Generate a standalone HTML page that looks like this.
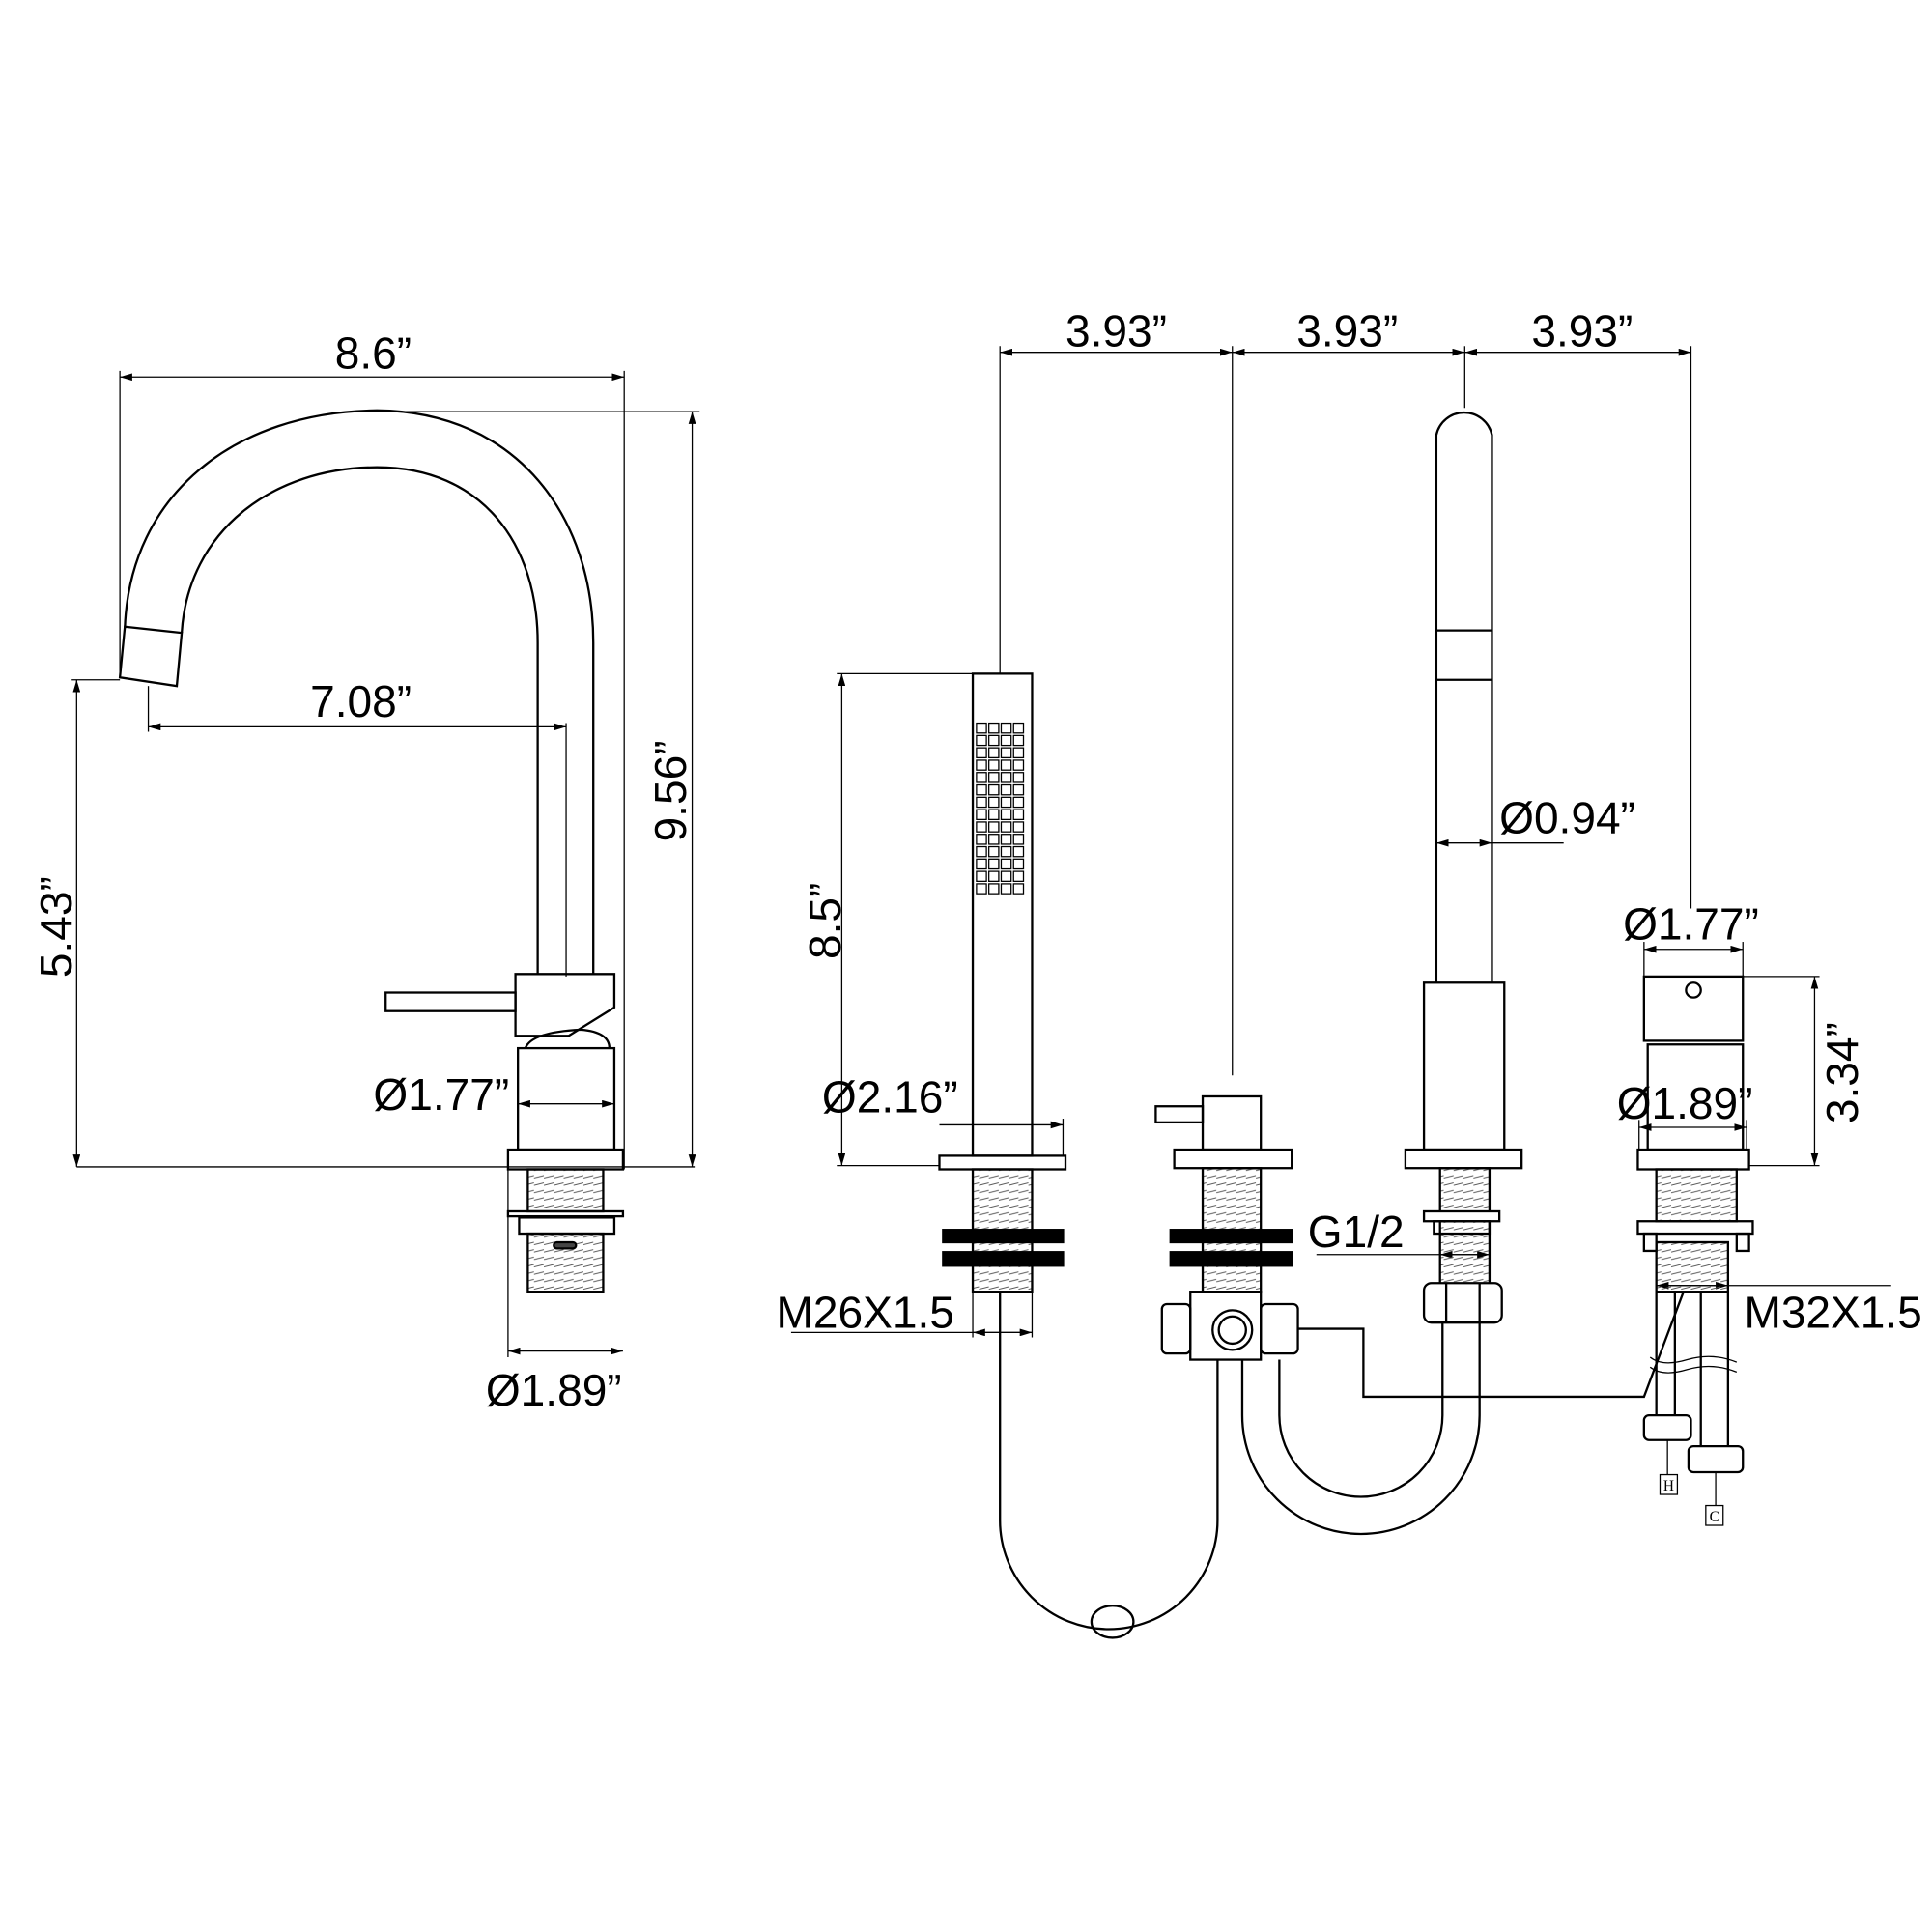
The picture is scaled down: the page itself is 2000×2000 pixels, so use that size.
<!DOCTYPE html>
<html><head><meta charset="utf-8"><style>
html,body{margin:0;padding:0;background:#fff}
svg{display:block}
text{font-family:"Liberation Sans",sans-serif;font-size:36px;fill:#000}
</style></head><body>
<svg width="2000" height="2000" viewBox="0 0 1563 1563" xmlns="http://www.w3.org/2000/svg">
<defs>
<marker id="a" viewBox="0 0 10 6" refX="10" refY="3" markerWidth="10" markerHeight="6" orient="auto-start-reverse" markerUnits="userSpaceOnUse"><path d="M0,0 L10,3 L0,6 z" fill="#000"/></marker>
<pattern id="th" width="8" height="6" patternUnits="userSpaceOnUse"><path d="M0,5 L8,3" stroke="#555" stroke-width="0.7"/></pattern>
</defs>
<g fill="none" stroke="#000" stroke-width="1">
<line x1="97" y1="305" x2="505" y2="305" marker-start="url(#a)" marker-end="url(#a)"/>
<line x1="97" y1="300" x2="97" y2="548"/>
<line x1="505" y1="300" x2="505" y2="946"/>
<line x1="305" y1="333" x2="566" y2="333"/>
<line x1="560" y1="333" x2="560" y2="944" marker-start="url(#a)" marker-end="url(#a)"/>
<line x1="120" y1="588" x2="458" y2="588" marker-start="url(#a)" marker-end="url(#a)"/>
<line x1="120" y1="555" x2="120" y2="592"/>
<line x1="458" y1="585" x2="458" y2="790"/>
<line x1="62" y1="550" x2="62" y2="944" marker-start="url(#a)" marker-end="url(#a)"/>
<line x1="58" y1="550" x2="97" y2="550"/>
<line x1="62" y1="944" x2="562" y2="944"/>
<line x1="419" y1="893" x2="497" y2="893" marker-start="url(#a)" marker-end="url(#a)"/>
<line x1="411" y1="1093" x2="504" y2="1093" marker-start="url(#a)" marker-end="url(#a)"/>
<line x1="411" y1="946" x2="411" y2="1098"/>
</g>
<g fill="none" stroke="#000" stroke-width="1.8">
<path d="M101,508 C105,400 190,333 305,332 C420,333 480,420 480,520 L480,788"/>
<path d="M147,512 C152,430 220,378 305,378 C390,378 435,440 435,520 L435,788"/>
<path d="M101,507 L147,512 L143,555 L97,548 Z"/>
<path d="M417,788 L497,788 L497,815 L460,838 L417,838 Z"/>
<rect x="312" y="803" width="105" height="15"/>
<path d="M425,848 Q430,835 470,833 Q493,835 493,848"/>
<rect x="419" y="848" width="78" height="82"/>
<rect x="411" y="930" width="93" height="16"/>
<rect x="427" y="946" width="61" height="34" fill="url(#th)"/>
<rect x="411" y="980" width="93" height="4"/>
<rect x="420" y="985" width="77" height="13"/>
<rect x="427" y="998" width="61" height="47" fill="url(#th)"/>
<rect x="448" y="1005" width="18" height="5" rx="2.5" fill="#444"/>
</g>
<text x="302" y="298" text-anchor="middle">8.6”</text>
<text x="292" y="580" text-anchor="middle">7.08”</text>
<text x="357" y="898" text-anchor="middle">Ø1.77”</text>
<text x="448" y="1137" text-anchor="middle">Ø1.89”</text>
<text transform="translate(555,640) rotate(-90)" text-anchor="middle">9.56”</text>
<text transform="translate(58,750) rotate(-90)" text-anchor="middle">5.43”</text>

<g fill="none" stroke="#000" stroke-width="1">
<line x1="809" y1="285" x2="997" y2="285" marker-start="url(#a)" marker-end="url(#a)"/>
<line x1="997" y1="285" x2="1185" y2="285" marker-start="url(#a)" marker-end="url(#a)"/>
<line x1="1185" y1="285" x2="1368" y2="285" marker-start="url(#a)" marker-end="url(#a)"/>
<line x1="809" y1="280" x2="809" y2="545"/>
<line x1="997" y1="280" x2="997" y2="870"/>
<line x1="1185" y1="280" x2="1185" y2="330"/>
<line x1="1368" y1="280" x2="1368" y2="735"/>
<line x1="681" y1="545" x2="681" y2="943" marker-start="url(#a)" marker-end="url(#a)"/>
<line x1="677" y1="545" x2="787" y2="545"/>
<line x1="677" y1="943" x2="760" y2="943"/>
<line x1="760" y1="910" x2="860" y2="910" marker-end="url(#a)"/>
<line x1="860" y1="905" x2="860" y2="935"/>
<line x1="640" y1="1078" x2="835" y2="1078"/>
<line x1="787" y1="1078" x2="835" y2="1078" marker-start="url(#a)" marker-end="url(#a)"/>
<line x1="787" y1="1045" x2="787" y2="1082"/>
<line x1="835" y1="1045" x2="835" y2="1082"/>
<line x1="1162" y1="682" x2="1207" y2="682" marker-start="url(#a)" marker-end="url(#a)"/>
<line x1="1207" y1="682" x2="1265" y2="682"/>
<line x1="1065" y1="1015" x2="1200" y2="1015"/>
<line x1="1165" y1="1015" x2="1205" y2="1015" marker-start="url(#a)" marker-end="url(#a)"/>
<line x1="1330" y1="768" x2="1410" y2="768" marker-start="url(#a)" marker-end="url(#a)"/>
<line x1="1330" y1="762" x2="1330" y2="790"/>
<line x1="1410" y1="762" x2="1410" y2="790"/>
<line x1="1326" y1="912" x2="1413" y2="912" marker-start="url(#a)" marker-end="url(#a)"/>
<line x1="1326" y1="906" x2="1326" y2="930"/>
<line x1="1413" y1="906" x2="1413" y2="930"/>
<line x1="1468" y1="790" x2="1468" y2="943" marker-start="url(#a)" marker-end="url(#a)"/>
<line x1="1410" y1="790" x2="1472" y2="790"/>
<line x1="1415" y1="943" x2="1472" y2="943"/>
<line x1="1340" y1="1040" x2="1530" y2="1040"/>
<line x1="1340" y1="1040" x2="1398" y2="1040" marker-start="url(#a)" marker-end="url(#a)"/>
</g>
<g fill="none" stroke="#000" stroke-width="1.8">
<rect x="787" y="545" width="48" height="390"/>
<rect x="760" y="935" width="102" height="11"/>
<rect x="787" y="946" width="48" height="99" fill="url(#th)"/>
<rect x="763" y="995" width="97" height="10" fill="#000"/>
<rect x="763" y="1013" width="97" height="11" fill="#000"/>
<path d="M809,1045 L809,1230 A88,88 0 0 0 985,1230 L985,1095"/>
<ellipse cx="900" cy="1312" rx="17" ry="13"/>
<rect x="973" y="887" width="47" height="43"/>
<rect x="935" y="895" width="38" height="13"/>
<rect x="950" y="930" width="95" height="15"/>
<rect x="973" y="945" width="47" height="100" fill="url(#th)"/>
<rect x="947" y="995" width="98" height="10" fill="#000"/>
<rect x="947" y="1013" width="98" height="11" fill="#000"/>
<rect x="963" y="1045" width="57" height="55" fill="#fff"/>
<circle cx="997" cy="1076" r="16"/>
<circle cx="997" cy="1076" r="11"/>
<rect x="940" y="1055" width="23" height="40" rx="4"/>
<rect x="1020" y="1055" width="30" height="40" rx="4"/>
<path d="M1050,1075 L1103,1075 L1103,1130 L1330,1130 L1362,1045"/>
<path d="M1005,1100 L1005,1145 A96,96 0 0 0 1197,1145 L1197,1070"/>
<path d="M1035,1100 L1035,1145 A66,66 0 0 0 1167,1145 L1167,1070"/>
<path d="M1162,795 L1162,352 A23,23 0 0 1 1207,352 L1207,795"/>
<line x1="1162" y1="510" x2="1207" y2="510"/>
<line x1="1162" y1="550" x2="1207" y2="550"/>
<rect x="1152" y="795" width="65" height="135"/>
<rect x="1137" y="930" width="94" height="15"/>
<rect x="1165" y="945" width="40" height="95" fill="url(#th)"/>
<rect x="1152" y="980" width="61" height="8" fill="#fff"/>
<rect x="1160" y="988" width="45" height="10"/>
<rect x="1152" y="1038" width="63" height="32" rx="6" fill="#fff"/>
<line x1="1170" y1="1038" x2="1170" y2="1070"/>
<line x1="1197" y1="1038" x2="1197" y2="1070"/>
<rect x="1330" y="790" width="80" height="52"/>
<circle cx="1370" cy="801" r="6"/>
<rect x="1333" y="845" width="77" height="85"/>
<rect x="1325" y="930" width="90" height="16"/>
<rect x="1340" y="946" width="65" height="42" fill="url(#th)"/>
<rect x="1325" y="988" width="93" height="10"/>
<rect x="1330" y="998" width="10" height="14"/>
<rect x="1405" y="998" width="10" height="14"/>
<rect x="1340" y="1005" width="58" height="40" fill="url(#th)"/>
<line x1="1340" y1="1045" x2="1340" y2="1145"/>
<line x1="1355" y1="1045" x2="1355" y2="1145"/>
<line x1="1376" y1="1045" x2="1376" y2="1170"/>
<line x1="1398" y1="1045" x2="1398" y2="1170"/>
<path d="M1335,1098 q10,8 30,2 q20,-6 40,2" stroke-width="1"/>
<path d="M1335,1106 q10,8 30,2 q20,-6 40,2" stroke-width="1"/>
<rect x="1330" y="1145" width="38" height="20" rx="4"/>
<rect x="1366" y="1170" width="44" height="21" rx="4"/>
<line x1="1349" y1="1165" x2="1349" y2="1193" stroke-width="1"/>
<line x1="1388" y1="1191" x2="1388" y2="1218" stroke-width="1"/>
<rect x="1343" y="1193" width="14" height="16" stroke-width="1"/>
<rect x="1380" y="1218" width="14" height="16" stroke-width="1"/>
</g>
<g fill="#000" stroke="none">
<g id="row"><rect x="790" y="585" width="8" height="8" fill="none" stroke="#000" stroke-width="1"/><rect x="800" y="585" width="8" height="8" fill="none" stroke="#000" stroke-width="1"/><rect x="810" y="585" width="8" height="8" fill="none" stroke="#000" stroke-width="1"/><rect x="820" y="585" width="8" height="8" fill="none" stroke="#000" stroke-width="1"/></g>
<use href="#row" y="10"/><use href="#row" y="20"/><use href="#row" y="30"/><use href="#row" y="40"/><use href="#row" y="50"/><use href="#row" y="60"/><use href="#row" y="70"/><use href="#row" y="80"/><use href="#row" y="90"/><use href="#row" y="100"/><use href="#row" y="110"/><use href="#row" y="120"/><use href="#row" y="130"/>
</g>
<text x="903" y="280" text-anchor="middle">3.93”</text>
<text x="1090" y="280" text-anchor="middle">3.93”</text>
<text x="1280" y="280" text-anchor="middle">3.93”</text>
<text x="1268" y="674" text-anchor="middle">Ø0.94”</text>
<text x="1368" y="760" text-anchor="middle">Ø1.77”</text>
<text x="1363" y="905" text-anchor="middle">Ø1.89”</text>
<text x="720" y="900" text-anchor="middle">Ø2.16”</text>
<text x="700" y="1074" text-anchor="middle">M26X1.5</text>
<text x="1097" y="1009" text-anchor="middle">G1/2</text>
<text x="1483" y="1074" text-anchor="middle">M32X1.5</text>
<text transform="translate(1503,868) rotate(-90)" text-anchor="middle">3.34”</text>
<text transform="translate(680,745) rotate(-90)" text-anchor="middle">8.5”</text>
<text x="1350" y="1206" text-anchor="middle" style="font-family:'Liberation Serif',serif;font-size:12px">H</text>
<text x="1387" y="1231" text-anchor="middle" style="font-family:'Liberation Serif',serif;font-size:12px">C</text>
</svg>
</body></html>
